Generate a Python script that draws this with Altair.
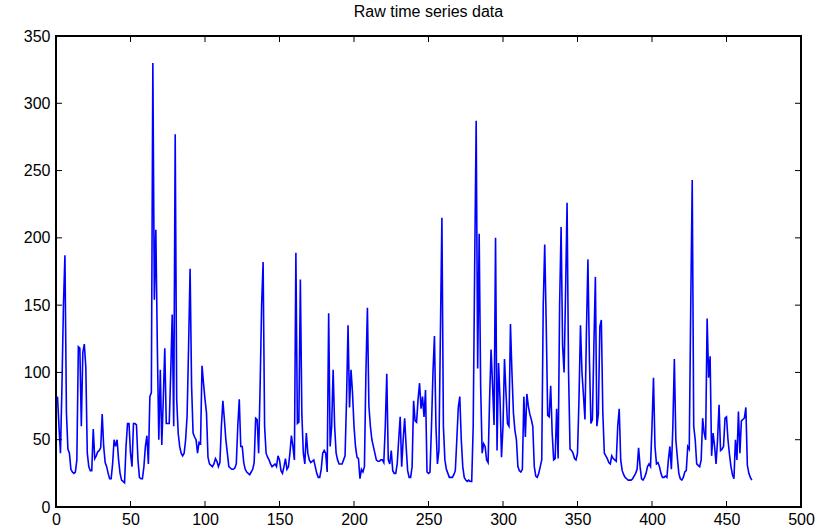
import altair as alt
import pandas as pd

# Raw series (sample index starts at 1)
values = [
    82, 60, 40, 90, 150, 187, 70, 43, 40, 28,
    26, 25, 26, 35, 119, 118, 60, 115, 121, 104,
    40, 30, 27, 27, 58, 36, 38, 41, 42, 44,
    69, 45, 33, 30, 25, 21, 21, 32, 50, 45,
    50, 35, 25, 20, 19, 18, 45, 62, 62, 40,
    30, 62, 62, 61, 35, 22, 21, 21, 30, 45,
    53, 32, 82, 85, 330, 154, 206, 120, 50, 102,
    46, 80, 118, 62, 62, 62, 100, 143, 60, 277,
    80, 55, 45, 40, 38, 40, 50, 68, 120, 177,
    90, 55, 52, 50, 40, 48, 47, 105, 92, 80,
    70, 37, 32, 31, 30, 32, 36, 34, 30, 33,
    60, 79, 65, 50, 40, 30, 29, 28, 28, 29,
    32, 60, 80, 45, 45, 33, 28, 26, 25, 24,
    26, 28, 33, 66, 65, 40, 90, 150, 182, 60,
    40, 37, 35, 32, 30, 31, 32, 30, 38, 35,
    27, 25, 30, 36, 28, 30, 40, 53, 45, 35,
    189, 62, 63, 169, 69, 40, 32, 55, 40, 35,
    33, 34, 35, 30, 25, 22, 22, 28, 40, 42,
    40, 26, 144, 45, 60, 102, 60, 40, 35, 32,
    32, 32, 35, 38, 80, 135, 74, 102, 85, 60,
    45, 37, 36, 21, 28, 26, 30, 100, 148, 75,
    60, 50, 45, 40, 35, 34, 34, 35, 35, 33,
    60, 99, 35, 32, 42, 27, 25, 25, 32, 50,
    67, 30, 50, 66, 45, 27, 22, 22, 30, 79,
    64, 63, 80, 92, 73, 82, 67, 87, 26, 25,
    26, 60, 100, 127, 60, 32, 42, 130, 215, 60,
    35, 28, 25, 22, 22, 22, 24, 27, 50, 74,
    82, 50, 30, 22, 20, 19, 20, 19, 19, 60,
    180, 287, 103, 203, 90, 40, 47, 45, 35, 33,
    80, 117, 90, 61, 200, 42, 107, 80, 37, 60,
    110, 85, 62, 60, 136, 100, 70, 57, 50, 30,
    27, 26, 28, 82, 52, 84, 75, 69, 65, 60,
    30, 23, 22, 25, 30, 35, 150, 195, 136, 68,
    67, 90, 55, 35, 36, 73, 36, 150, 208, 120,
    100, 160, 226, 100, 43, 42, 40, 36, 35, 40,
    80, 135, 100, 83, 65, 130, 184, 110, 62, 65,
    120, 171, 60, 69, 134, 139, 70, 40, 38, 36,
    33, 32, 38, 36, 35, 34, 60, 73, 35, 27,
    24, 22, 21, 20, 20, 20, 21, 23, 25, 28,
    44, 30, 21, 20, 22, 25, 30, 32, 30, 60,
    96, 45, 32, 33, 30, 25, 22, 22, 23, 22,
    35, 45, 28, 60, 110, 50, 37, 25, 21, 20,
    22, 26, 27, 45, 43, 150, 243, 60, 50, 32,
    31, 30, 35, 66, 55, 50, 140, 96, 112, 38,
    55, 45, 32, 50, 76, 42, 43, 45, 66, 67,
    50, 39, 30, 24, 21, 50, 35, 71, 40, 64,
    65, 66, 74, 31, 25, 22, 20,
]

x_ticks = list(range(0, 501, 50))
y_ticks = list(range(0, 351, 50))

W, H = 745, 471
FONT = "Liberation Sans"

series = pd.DataFrame({"t": list(range(1, len(values) + 1)), "v": values})
xt = pd.DataFrame({"t": x_ticks})
yt = pd.DataFrame({"v": y_ticks})

xscale = alt.Scale(domain=[0, 500], nice=False, zero=False)
yscale = alt.Scale(domain=[0, 350], nice=False, zero=False)

line = alt.Chart(series).mark_line(color="#0000ff", strokeWidth=1.6).encode(
    x=alt.X("t:Q", scale=xscale, title=None,
            axis=alt.Axis(values=x_ticks, ticks=False, domain=False, grid=False,
                          labelFont=FONT, labelFontSize=16, labelColor="black",
                          labelPadding=4, labelFlush=False)),
    y=alt.Y("v:Q", scale=yscale, title=None,
            axis=alt.Axis(values=y_ticks, ticks=False, domain=False, grid=False,
                          labelFont=FONT, labelFontSize=16, labelColor="black",
                          labelPadding=6, labelFlush=False)),
)

# inward tick marks on all four sides of the box
tick_bottom = alt.Chart(xt).mark_rule(color="black").encode(
    x=alt.X("t:Q", scale=xscale), y=alt.value(H), y2=alt.value(H - 6))
tick_top = alt.Chart(xt).mark_rule(color="black").encode(
    x=alt.X("t:Q", scale=xscale), y=alt.value(0), y2=alt.value(6))
tick_left = alt.Chart(yt).mark_rule(color="black").encode(
    y=alt.Y("v:Q", scale=yscale), x=alt.value(0), x2=alt.value(6))
tick_right = alt.Chart(yt).mark_rule(color="black").encode(
    y=alt.Y("v:Q", scale=yscale), x=alt.value(W), x2=alt.value(W - 6))

chart = alt.layer(line, tick_bottom, tick_top, tick_left, tick_right).properties(
    width=W,
    height=H,
    title=alt.TitleParams("Raw time series data", font=FONT, fontSize=16,
                          fontWeight="normal", color="black", offset=8),
    autosize=alt.AutoSizeParams(type="none"),
    padding={"left": 56, "top": 36, "right": 20, "bottom": 25},
).configure(
    background="white",
    view=alt.ViewConfig(stroke="black", strokeWidth=2),
)

chart.save("out.html", embed_options={"renderer": "svg", "actions": False})
